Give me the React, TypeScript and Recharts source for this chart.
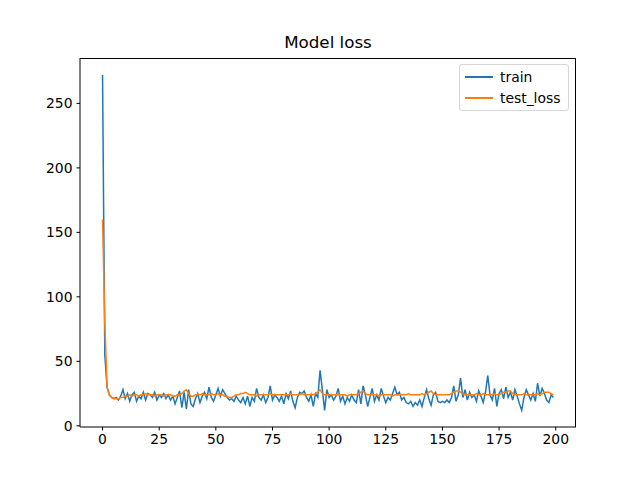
import React from "react";
import { LineChart, Line, XAxis, YAxis } from "recharts";

const trainLoss: number[] = [
  272, 55, 30, 24, 22, 21, 22, 20, 23, 28,
  21, 25, 19, 24, 26, 19, 23, 21, 26, 20,
  25, 24, 22, 26, 20, 24, 22, 25, 21, 24,
  20, 23, 17, 22, 27, 14, 26, 13, 28, 17,
  15, 21, 25, 18, 23, 26, 21, 30, 22, 19,
  24, 29, 23, 28, 25, 22, 20, 21, 19, 23,
  20, 18, 22, 17, 23, 15, 22, 19, 29, 22,
  20, 24, 18, 22, 31, 20, 24, 22, 19, 23,
  17, 25, 21, 27, 19, 14, 22, 26, 25, 27,
  22, 19, 24, 15, 25, 22, 43, 28, 12, 28,
  22, 24, 20, 23, 29, 19, 23, 17, 22, 19,
  24, 20, 18, 28, 17, 31, 24, 15, 22, 29,
  19, 24, 20, 29, 23, 18, 22, 20, 25, 30,
  24, 26, 20, 22, 18, 17, 19, 15, 18, 16,
  20, 15, 22, 28, 21, 16, 24, 26, 19, 18,
  19, 18, 20, 18, 22, 31, 19, 24, 37, 22,
  28, 20, 26, 22, 24, 19, 27, 23, 18, 26,
  39, 24, 20, 29, 15, 25, 28, 21, 30, 22,
  26, 20, 28, 23, 17, 12, 22, 28, 24, 20,
  25, 19, 33, 23, 29, 25, 20, 18, 24, 22,
];

const testLoss: number[] = [
  160, 80, 30, 24, 22, 21, 21, 21, 22, 22,
  23, 23, 24, 23, 24, 24, 23, 24, 24, 25,
  24, 24, 24, 23, 24, 24, 24, 23, 24, 24,
  24, 23, 23, 24, 24, 25, 27, 28, 25, 23,
  23, 24, 24, 24, 25, 24, 24, 24, 25, 24,
  24, 25, 24, 24, 23, 23, 22, 22, 23, 24,
  24, 25, 25, 26, 25, 24, 24, 24, 23, 24,
  24, 24, 24, 24, 25, 24, 24, 24, 24, 24,
  24, 24, 24, 25, 24, 24, 24, 24, 25, 24,
  24, 24, 24, 24, 25, 26, 28, 25, 24, 24,
  24, 24, 24, 24, 24, 24, 24, 24, 23, 24,
  24, 24, 24, 25, 26, 27, 25, 24, 24, 24,
  24, 24, 23, 24, 24, 24, 24, 24, 23, 24,
  24, 24, 24, 24, 24, 25, 24, 24, 24, 24,
  24, 25, 24, 25, 26, 27, 25, 24, 24, 24,
  24, 24, 24, 24, 25, 26, 27, 27, 26, 25,
  24, 24, 24, 24, 24, 25, 24, 24, 25, 24,
  24, 24, 24, 25, 24, 24, 25, 26, 26, 27,
  27, 25, 24, 24, 24, 24, 25, 24, 24, 24,
  24, 24, 25, 24, 25, 26, 26, 26, 25, 24,
];

const xTicks: number[] = [0, 25, 50, 75, 100, 125, 150, 175, 200];
const yTicks: number[] = [0, 50, 100, 150, 200, 250];
const seriesNames: string[] = ["train", "test_loss"];
const title = "Model loss";

const data = trainLoss.map((v, i) => ({ epoch: i, train: v, test_loss: testLoss[i] }));

const FONT = "DejaVu Sans, sans-serif";
const BLUE = "#1f77b4";
const ORANGE = "#ff7f0e";

export default function App() {
  const tickStyle = { fill: "#000", fontSize: 13.9, fontFamily: FONT };
  return (
    <div style={{ position: "absolute", left: 0, top: 0, width: 640, height: 480, background: "#fff" }}>
      <div
        style={{
          position: "absolute",
          left: 80,
          width: 496,
          top: 32,
          textAlign: "center",
          fontFamily: FONT,
          fontSize: 16.7,
          color: "#000",
          lineHeight: "20px",
        }}
      >
        {title}
      </div>
      <LineChart
        width={640}
        height={480}
        data={data}
        margin={{ top: 58, right: 64, bottom: 23, left: 40 }}
      >
        <XAxis
          dataKey="epoch"
          type="number"
          domain={[-9.95, 208.95]}
          allowDataOverflow
          ticks={xTicks}
          tickSize={3.5}
          tickMargin={4}
          height={30}
          tick={tickStyle}
          tickLine={{ stroke: "#000" }}
          axisLine={{ stroke: "#000" }}
        />
        <YAxis
          type="number"
          domain={[-0.93, 285.2]}
          allowDataOverflow
          ticks={yTicks}
          tickSize={3.5}
          tickMargin={4}
          width={40}
          tick={tickStyle}
          tickLine={{ stroke: "#000" }}
          axisLine={{ stroke: "#000" }}
        />
        <Line
          type="linear"
          dataKey="train"
          name={seriesNames[0]}
          stroke={BLUE}
          strokeWidth={1.5}
          dot={false}
          isAnimationActive={false}
        />
        <Line
          type="linear"
          dataKey="test_loss"
          name={seriesNames[1]}
          stroke={ORANGE}
          strokeWidth={1.5}
          dot={false}
          isAnimationActive={false}
        />
      </LineChart>
      <div
        style={{
          position: "absolute",
          left: 80,
          top: 58,
          width: 496,
          height: 369,
          boxSizing: "border-box",
          borderTop: "1px solid #000",
          borderRight: "1px solid #000",
          pointerEvents: "none",
        }}
      />
      <div
        style={{
          position: "absolute",
          left: 459,
          top: 64,
          width: 110,
          height: 47,
          boxSizing: "border-box",
          border: "1px solid #d6d6d6",
          borderRadius: 3,
          background: "rgba(255,255,255,0.8)",
          fontFamily: FONT,
          fontSize: 13.9,
          color: "#000",
        }}
      >
        {seriesNames.map((n, i) => (
          <div
            key={n}
            style={{ position: "absolute", left: 5, top: 3 + i * 21, height: 18, display: "flex", alignItems: "center" }}
          >
            <div style={{ width: 28, height: 1.5, background: i === 0 ? BLUE : ORANGE, marginRight: 7 }} />
            <span>{n}</span>
          </div>
        ))}
      </div>
    </div>
  );
}
